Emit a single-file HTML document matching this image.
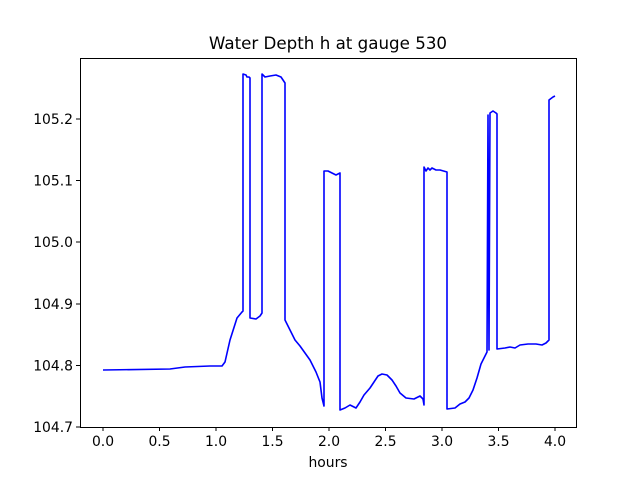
<!DOCTYPE html>
<html><head><meta charset="utf-8"><style>body{margin:0;background:#fff}svg{display:block}</style></head>
<body>
<svg width="640" height="480" xmlns="http://www.w3.org/2000/svg" font-family="DejaVu Sans, Liberation Sans, sans-serif">
<rect width="640" height="480" fill="#fff"/>
<clipPath id="c"><rect x="80" y="58" width="496" height="369"/></clipPath>
<polyline clip-path="url(#c)" fill="none" stroke="#0000ff" stroke-width="1.6" stroke-linejoin="round" points="103,370 170,369 185,367 210,366 222,366 225,362 230,340 237,318 242,312 243,311 243,74 246,75 247,77 249,77 250,78 250,318 256,319 260,316 262,313 262,74 265,77 270,76 276,75 281,77 285,83 285,320 290,330 295,340 300,346 305,353 310,360 316,372 320,382 322,398 324,406 324,171 328,171 332,173 336,175 338,174 340,173 340,410 345,408 350,405 356,408 360,402 364,395 370,388 374,382 378,376 382,374 387,375 392,380 396,386 400,393 406,398 414,399 420,396 423,399 424,405 424,167 426,171 428,168 430,170 432,168 436,170 440,170 447,172 447,409 455,408 460,404 465,402 469,398 473,390 477,378 481,364 487,352 488,115 489,350 490,113 493,111 496,113 497,114 497,349 505,348 510,347 515,348 520,345 528,344 536,344 542,345 546,343 549,340 549,100 553,97 555,96"/>
<rect x="80.5" y="58.5" width="496" height="369" fill="none" stroke="#000" stroke-width="1"/>
<g stroke="#000" stroke-width="1">
<line x1="103" y1="427" x2="103" y2="431"/><line x1="159.5" y1="427" x2="159.5" y2="431"/><line x1="216" y1="427" x2="216" y2="431"/><line x1="272.5" y1="427" x2="272.5" y2="431"/><line x1="329" y1="427" x2="329" y2="431"/><line x1="385.5" y1="427" x2="385.5" y2="431"/><line x1="442" y1="427" x2="442" y2="431"/><line x1="498.5" y1="427" x2="498.5" y2="431"/><line x1="555" y1="427" x2="555" y2="431"/>
<line x1="76" y1="427" x2="80" y2="427"/><line x1="76" y1="365.5" x2="80" y2="365.5"/><line x1="76" y1="304" x2="80" y2="304"/><line x1="76" y1="242" x2="80" y2="242"/><line x1="76" y1="180.5" x2="80" y2="180.5"/><line x1="76" y1="119" x2="80" y2="119"/>
</g>
<g font-size="13.9" text-anchor="middle" fill="#000">
<text x="103" y="446">0.0</text><text x="159.5" y="446">0.5</text><text x="216" y="446">1.0</text><text x="272.5" y="446">1.5</text><text x="329" y="446">2.0</text><text x="385.5" y="446">2.5</text><text x="442" y="446">3.0</text><text x="498.5" y="446">3.5</text><text x="555" y="446">4.0</text>
<text x="328" y="467">hours</text>
</g>
<g font-size="13.9" text-anchor="end" fill="#000">
<text x="73" y="432">104.7</text><text x="73" y="370.5">104.8</text><text x="73" y="309">104.9</text><text x="73" y="247">105.0</text><text x="73" y="185.5">105.1</text><text x="73" y="124">105.2</text>
</g>
<text x="328" y="49" font-size="16.7" text-anchor="middle" fill="#000">Water Depth h at gauge 530</text>
</svg>
</body></html>
